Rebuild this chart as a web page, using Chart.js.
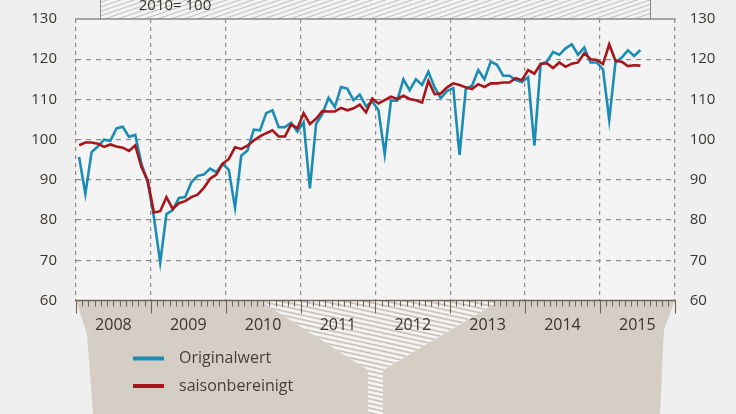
<!DOCTYPE html>
<html>
<head>
<meta charset="utf-8">
<script src="https://cdn.jsdelivr.net/npm/chart.js@4.4.0/dist/chart.umd.min.js"></script>
<style>
html, body { margin: 0; padding: 0; background: #efefef; }
canvas { display: block; }
</style>
</head>
<body>
<canvas id="myChart" width="736" height="414"></canvas>
<script>
// data (monthly, Jan 2008 - Jul 2015)
const years = ['2008', '2009', '2010', '2011', '2012', '2013', '2014', '2015'];
const baseLabel = '2010= 100';
const seriesNames = ['Originalwert', 'saisonbereinigt'];
const seriesColors = ['#1b8db4', '#a6161b'];

const originalwert = [
  95.7, 86.5, 96.9, 98.3, 100, 99.7, 102.8, 103.2, 100.7, 101.2, 94, 89.4,
  80.7, 69.4, 81.5, 82.5, 85.5, 85.7, 89.4, 91, 91.3, 92.8, 91.9, 94,
  92.5, 83.1, 96, 97.3, 102.5, 102.3, 106.6, 107.3, 103.1, 103.1, 104.2, 102,
  104.3, 87.9, 103.9, 106.4, 110.4, 108.1, 113.1, 112.7, 109.8, 111.2, 108.3, 109.5,
  107.3, 96.4, 109.7, 109.7, 115, 112.3, 115, 113.6, 116.9, 113, 110.3, 112.1,
  112.8, 96.2, 112.6, 113.4, 117.3, 115, 119.4, 118.6, 115.9, 115.9, 114.8, 114.3,
  115.5, 98.5, 118.8, 119.4, 121.8, 121.1, 122.7, 123.7, 121.1, 122.9, 119.2, 119.2,
  117.5, 104.9, 119.2, 120.4, 122.2, 120.8, 122.3
];
const saisonbereinigt = [
  98.6, 99.3, 99.3, 99, 98.2, 98.8, 98.3, 98, 97.2, 98.6, 93.2, 89.8,
  81.9, 82.2, 85.7, 82.8, 84.2, 84.7, 85.7, 86.3, 88, 90.3, 91.3, 94,
  95.2, 98.1, 97.7, 98.5, 99.8, 100.8, 101.6, 102.3, 100.8, 100.8, 103.8, 102.8,
  106.6, 103.9, 105.2, 107.1, 107, 107, 107.9, 107.3, 107.8, 108.7, 106.8, 110.2,
  109, 109.8, 110.7, 110.1, 110.9, 110.1, 109.8, 109.2, 114.6, 111.3, 111.5, 113,
  114, 113.6, 113, 112.6, 113.8, 113.1, 114, 114, 114.2, 114.2, 115.3, 114.8,
  117.3, 116.4, 118.8, 119, 117.8, 119.2, 118.1, 118.9, 119.2, 121.5, 120, 119.8,
  118.8, 123.7, 119.6, 119.4, 118.3, 118.5, 118.4
];

const gridColor = '#8e8983';
const textColor = '#3a352f';
const beige = '#d5cec5';

Chart.defaults.font.family = "'Open Sans', sans-serif";
Chart.defaults.font.size = 15;

// month index -> point in the middle of the month
const toPoints = arr => arr.map((v, i) => ({ x: i + 0.5, y: v }));

function polyPath(ctx, poly) {
  ctx.beginPath();
  poly.forEach((p, i) => i ? ctx.lineTo(p[0], p[1]) : ctx.moveTo(p[0], p[1]));
  ctx.closePath();
}

function hatch(ctx, poly, bg, lineColor, lw, gap, slope) {
  ctx.save();
  polyPath(ctx, poly);
  ctx.clip();
  ctx.fillStyle = bg;
  ctx.fillRect(0, 0, 736, 414);
  ctx.strokeStyle = lineColor;
  ctx.lineWidth = lw;
  for (let k = -400; k < 800; k += gap) {
    ctx.beginPath();
    ctx.moveTo(0, k);
    ctx.lineTo(736, k + slope * 736);
    ctx.stroke();
  }
  ctx.restore();
}

const decor = {
  id: 'decor',
  beforeDraw(chart) {
    const ctx = chart.ctx;
    const a = chart.chartArea;
    ctx.save();
    ctx.fillStyle = '#efefef';
    ctx.fillRect(0, 0, chart.width, chart.height);
    ctx.fillStyle = '#f4f4f4';
    ctx.fillRect(a.left, a.top, a.right - a.left, a.bottom - a.top);

    // hatched box on top
    hatch(ctx, [[100, 0], [650, 0], [650, a.top], [100, a.top]], '#f3f3f3', '#b3b0ac', 0.8, 4.5, -0.34);
    ctx.strokeStyle = '#8e8983';
    ctx.lineWidth = 1;
    ctx.beginPath();
    ctx.moveTo(100.5, 0); ctx.lineTo(100.5, a.top);
    ctx.moveTo(650.5, 0); ctx.lineTo(650.5, a.top);
    ctx.stroke();
    ctx.fillStyle = textColor;
    ctx.font = "15px 'Open Sans', sans-serif";
    ctx.textAlign = 'center';
    ctx.textBaseline = 'middle';
    ctx.fillText(baseLabel, 175, 6);

    // shapes below the axis
    const b = a.bottom;
    ctx.fillStyle = beige;
    polyPath(ctx, [[a.left, b], [87, 334], [93, 414], [368, 414], [368, 370], [260, b]]);
    ctx.fill();
    polyPath(ctx, [[383, 414], [383, 370], [500, b], [a.right, b], [664, 330], [660, 414]]);
    ctx.fill();
    hatch(ctx, [[260, b], [368, 370], [368, 414], [383, 414], [383, 370], [500, b]], '#f4f4f4', '#cbc4bb', 1.8, 4.6, 0.22);
    ctx.restore();
  },
  afterDraw(chart) {
    const ctx = chart.ctx;
    const a = chart.chartArea;
    const xs = chart.scales.x;
    ctx.save();
    // top line
    ctx.strokeStyle = '#8e8983';
    ctx.lineWidth = 1.5;
    ctx.beginPath();
    ctx.moveTo(a.left - 1, a.top); ctx.lineTo(a.right + 1, a.top);
    ctx.stroke();
    // x axis with monthly ticks
    ctx.strokeStyle = '#6d645b';
    ctx.beginPath();
    ctx.moveTo(a.left - 1, a.bottom); ctx.lineTo(a.right + 1, a.bottom);
    ctx.stroke();
    ctx.lineWidth = 1.1;
    for (let m = 0; m <= years.length * 12; m++) {
      const px = Math.round(xs.getPixelForValue(m)) + 0.5;
      const len = m % 12 === 0 ? 13 : 6;
      ctx.beginPath();
      ctx.moveTo(px, a.bottom);
      ctx.lineTo(px, a.bottom + len);
      ctx.stroke();
    }
    // year labels
    ctx.fillStyle = textColor;
    ctx.font = "16px 'Open Sans', sans-serif";
    ctx.textAlign = 'center';
    ctx.textBaseline = 'middle';
    years.forEach((y, i) => {
      ctx.fillText(y, xs.getPixelForValue(i * 12 + 6), 325);
    });
    // legend
    ctx.font = "16px 'Open Sans', sans-serif";
    ctx.textAlign = 'left';
    seriesNames.forEach((name, i) => {
      const ly = 358.5 + i * 27.5;
      ctx.strokeStyle = seriesColors[i];
      ctx.lineWidth = 4;
      ctx.beginPath();
      ctx.moveTo(133, ly); ctx.lineTo(164, ly);
      ctx.stroke();
      ctx.fillStyle = '#45403a';
      ctx.fillText(name, 179, ly);
    });
    ctx.restore();
  }
};

// keep the tick padding out of the layout so the plot top sits at 19px
const fixPad = w => s => { s.width = w; s.paddingTop = 9; s.paddingBottom = 9; };

const ctx = document.getElementById('myChart').getContext('2d');
const myChart = new Chart(ctx, {
  type: 'line',
  data: {
    datasets: [{
      label: seriesNames[0],
      data: toPoints(originalwert),
      borderColor: seriesColors[0],
      borderWidth: 2.6,
      pointRadius: 0,
      order: 1
    }, {
      label: seriesNames[1],
      data: toPoints(saisonbereinigt),
      borderColor: seriesColors[1],
      borderWidth: 2.6,
      pointRadius: 0,
      order: 0
    }]
  },
  options: {
    responsive: false,
    animation: false,
    layout: { padding: { top: 19, left: 0, right: 0, bottom: 0 } },
    plugins: { legend: { display: false }, tooltip: { enabled: false } },
    scales: {
      x: {
        type: 'linear',
        min: 0,
        max: years.length * 12,
        ticks: { display: false, stepSize: 12 },
        grid: { color: gridColor, lineWidth: 1.2, drawTicks: false },
        border: { display: false, dash: [4, 4] },
        afterFit: s => { s.height = 113.5; }
      },
      y: {
        position: 'left',
        min: 60,
        max: 130,
        ticks: { stepSize: 10, padding: 19, color: textColor },
        grid: {
          color: c => (c.tick.value === 60 || c.tick.value === 130) ? 'rgba(0,0,0,0)' : gridColor,
          lineWidth: 1.2,
          drawTicks: false
        },
        border: { display: false, dash: [5, 5] },
        afterFit: fixPad(76)
      },
      y2: {
        position: 'right',
        min: 60,
        max: 130,
        ticks: { stepSize: 10, padding: 15, color: textColor },
        grid: { display: false, drawTicks: false },
        border: { display: false },
        afterFit: fixPad(61.3)
      }
    }
  },
  plugins: [decor]
});
</script>
</body>
</html>
